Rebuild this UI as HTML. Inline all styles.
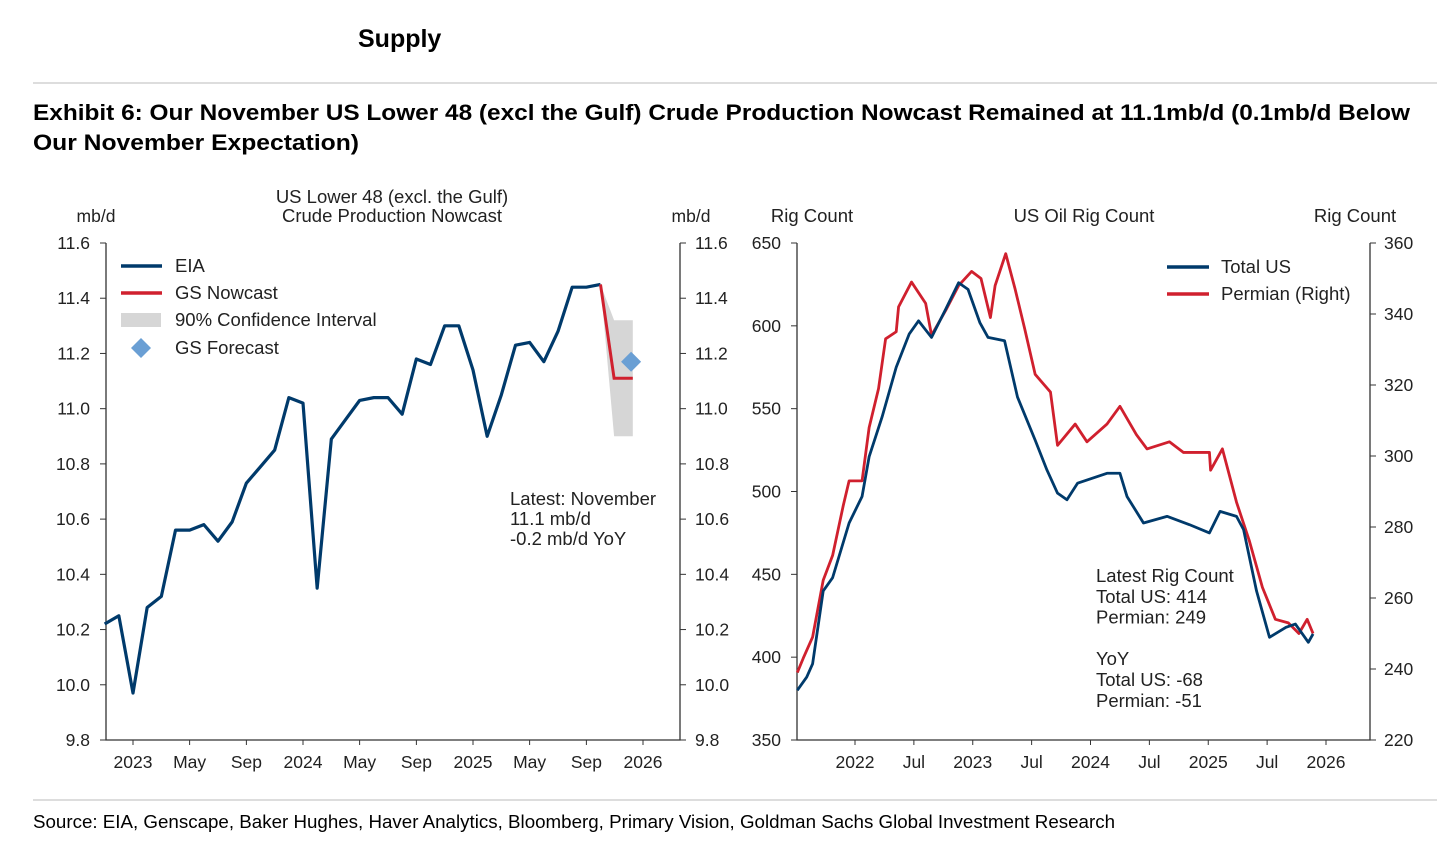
<!DOCTYPE html>
<html><head><meta charset="utf-8"><style>
body{margin:0;background:#fff;width:1456px;height:861px;overflow:hidden;font-family:"Liberation Sans",Arial,sans-serif}
svg text{font-family:"Liberation Sans",Arial,sans-serif}
</style></head><body>
<svg id="s" width="1456" height="861" viewBox="0 0 1456 861" xmlns="http://www.w3.org/2000/svg">
<text x="358" y="47" font-size="25" font-weight="bold" fill="#000">Supply</text>
<line x1="33" y1="83" x2="1437" y2="83" stroke="#bbb" stroke-width="1"/>
<text x="33" y="120" font-size="22.5" font-weight="bold" fill="#000" textLength="1377" lengthAdjust="spacingAndGlyphs">Exhibit 6: Our November US Lower 48 (excl the Gulf) Crude Production Nowcast Remained at 11.1mb/d (0.1mb/d Below</text>
<text x="33" y="150" font-size="22.5" font-weight="bold" fill="#000" textLength="326" lengthAdjust="spacingAndGlyphs">Our November Expectation)</text>
<line x1="33" y1="800" x2="1437" y2="800" stroke="#bbb" stroke-width="1"/>
<text x="33" y="828" font-size="18" fill="#000" textLength="1082" lengthAdjust="spacingAndGlyphs">Source: EIA, Genscape, Baker Hughes, Haver Analytics, Bloomberg, Primary Vision, Goldman Sachs Global Investment Research</text>
<g id="left"></g>
<g id="right"></g>
</svg>
<script>
// ---- Left chart data ----
const eiaMonths = ["2022-11","2022-12","2023-01","2023-02","2023-03","2023-04","2023-05","2023-06","2023-07","2023-08","2023-09","2023-10","2023-11","2023-12","2024-01","2024-02","2024-03","2024-04","2024-05","2024-06","2024-07","2024-08","2024-09","2024-10","2024-11","2024-12","2025-01","2025-02","2025-03","2025-04","2025-05","2025-06","2025-07","2025-08","2025-09","2025-10"];
const eiaValues = [10.22,10.25,9.97,10.28,10.32,10.56,10.56,10.58,10.52,10.59,10.73,10.79,10.85,11.04,11.02,10.35,10.89,10.96,11.03,11.04,11.04,10.98,11.18,11.16,11.30,11.30,11.14,10.90,11.05,11.23,11.24,11.17,11.28,11.44,11.44,11.45];
const nowcastMonths = [2025.75,2025.83,2025.94];
const nowcastValues = [11.45,11.11,11.11];
const ciLow = [11.45,10.90,10.90];
const ciHigh = [11.45,11.32,11.32];
const forecastMonth = 2025.93;
const forecastValue = 11.17;
const leftTicks = [9.8,10.0,10.2,10.4,10.6,10.8,11.0,11.2,11.4,11.6];
const leftXLabels = ["2023","May","Sep","2024","May","Sep","2025","May","Sep","2026"];
const leftXDates = [2023.0,2023.333,2023.667,2024.0,2024.333,2024.667,2025.0,2025.333,2025.667,2026.0];
// ---- Right chart data ----
const usDates = [2021.51,2021.59,2021.64,2021.73,2021.81,2021.95,2022.06,2022.12,2022.23,2022.35,2022.46,2022.54,2022.65,2022.77,2022.88,2022.96,2023.06,2023.13,2023.27,2023.38,2023.53,2023.63,2023.72,2023.80,2023.89,2024.14,2024.25,2024.31,2024.45,2024.65,2024.84,2025.01,2025.10,2025.24,2025.30,2025.41,2025.52,2025.66,2025.74,2025.85,2025.89];
const usValues = [380,388,396,440,448,481,497,521,545,575,595,603,593,610,626,622,602,593,591,557,531,513,499,495,505,511,511,497,481,485,480,475,488,485,477,440,412,418,420,409,414];
const permDates = [2021.51,2021.56,2021.64,2021.73,2021.81,2021.90,2021.95,2022.06,2022.12,2022.20,2022.26,2022.35,2022.37,2022.48,2022.60,2022.65,2022.77,2022.88,2022.99,2023.07,2023.15,2023.19,2023.28,2023.36,2023.44,2023.53,2023.66,2023.72,2023.87,2023.97,2024.14,2024.25,2024.39,2024.48,2024.67,2024.79,2025.01,2025.02,2025.12,2025.24,2025.35,2025.46,2025.57,2025.68,2025.77,2025.84,2025.89];
const permValues = [239,243,249,265,272,286,293,293,308,319,333,335,342,349,343,334,341,348,352,350,339,348,357,347,336,323,318,303,309,304,309,314,306,302,304,301,301,296,302,287,276,263,254,253,250,254,250];
const rigLeftTicks = [350,400,450,500,550,600,650];
const rigRightTicks = [220,240,260,280,300,320,340,360];
const rightXLabels = ["2022","Jul","2023","Jul","2024","Jul","2025","Jul","2026"];
const rightXDates = [2022.0,2022.5,2023.0,2023.5,2024.0,2024.5,2025.0,2025.5,2026.0];

const NS="http://www.w3.org/2000/svg";
function mk(parent,tag,attrs,text){const e=document.createElementNS(NS,tag);for(const k in attrs)e.setAttribute(k,attrs[k]);if(text!==undefined)e.textContent=text;parent.appendChild(e);return e;}
const BLUE="#003a6b",RED="#d0202e";
const FS=18.5, TS=17.5;

// Left chart
(function(){
  const g=document.getElementById('left');
  const x0=106,x1=680,yT=243,yB=740;
  const ym=v=>yB-(v-9.8)/(11.6-9.8)*(yB-yT);
  const tToX=t=>133+(t-2023.0)*((643-133)/3);
  const mToX=m=>{const [y,mo]=m.split('-').map(Number);return tToX(y+(mo-1)/12);};
  let ax=mk(g,'path',{d:`M${x0},${yT}V${yB}H${x1}V${yT}`,fill:'none',stroke:'#333','stroke-width':1.3});
  
  leftTicks.forEach(v=>{const y=ym(v);
    mk(g,'line',{x1:x0-6,y1:y,x2:x0,y2:y,stroke:'#333'});
    mk(g,'line',{x1:x1,y1:y,x2:x1+6,y2:y,stroke:'#333'});
    let t=mk(g,'text',{x:x0-16,y:y+6,'font-size':TS,'text-anchor':'end',fill:'#222'},v.toFixed(1));
    
    let t2=mk(g,'text',{x:x1+15,y:y+6,'font-size':TS,fill:'#222'},v.toFixed(1));
    
  });
  leftXLabels.forEach((l,i)=>{const x=tToX(leftXDates[i]);
    mk(g,'line',{x1:x,y1:yB,x2:x,y2:yB+5,stroke:'#333'});
    let t=mk(g,'text',{x:x,y:yB+28,'font-size':TS,'text-anchor':'middle',fill:'#222'},l);
    
  });
  [['mb/d',96,222],['mb/d',691,222]].forEach(a=>{let t=mk(g,'text',{x:a[1],y:a[2],'font-size':TS,'text-anchor':'middle',fill:'#222'},a[0]);});
  let ti=mk(g,'text',{x:392,y:203,'font-size':FS,'text-anchor':'middle',fill:'#222'},'US Lower 48 (excl. the Gulf)');
  
  let ti2=mk(g,'text',{x:392,y:222,'font-size':FS,'text-anchor':'middle',fill:'#222'},'Crude Production Nowcast');
  
  let pts=nowcastMonths.map((m,i)=>`${tToX(m)},${ym(ciHigh[i])}`).concat(nowcastMonths.map((m,i)=>`${tToX(m)},${ym(ciLow[i])}`).reverse()).join(' ');
  let ci=mk(g,'polygon',{points:pts,fill:'#d6d6d6'});
  
  let eia=mk(g,'polyline',{points:eiaMonths.map((m,i)=>`${mToX(m)},${ym(eiaValues[i])}`).join(' '),fill:'none',stroke:BLUE,'stroke-width':3.2,'stroke-linejoin':'round'});
  
  let nc=mk(g,'polyline',{points:nowcastMonths.map((m,i)=>`${tToX(m)},${ym(nowcastValues[i])}`).join(' '),fill:'none',stroke:RED,'stroke-width':3});
  
  const fx=tToX(forecastMonth),fy=ym(forecastValue);
  let fd=mk(g,'polygon',{points:`${fx},${fy-10} ${fx+10},${fy} ${fx},${fy+10} ${fx-10},${fy}`,fill:'#6a9fd4'});
  
  const L=[[266,'EIA','line',BLUE],[293,'GS Nowcast','line',RED],[320,'90% Confidence Interval','box'],[348,'GS Forecast','diamond']];
  L.forEach(e=>{const y=e[0];
    let it;
    if(e[2]==='line')it=mk(g,'line',{x1:121,y1:y,x2:162,y2:y,stroke:e[3],'stroke-width':3.5});
    else if(e[2]==='box')it=mk(g,'rect',{x:121,y:y-7,width:40,height:14,fill:'#d6d6d6'});
    else it=mk(g,'polygon',{points:`141,${y-10} 151,${y} 141,${y+10} 131,${y}`,fill:'#6a9fd4'});
    
    let t=mk(g,'text',{x:175,y:y+6,'font-size':FS,fill:'#222'},e[1]);
    
  });
  ['Latest: November','11.1 mb/d','-0.2 mb/d YoY'].forEach((s,i)=>{let t=mk(g,'text',{x:510,y:505+i*20,'font-size':FS,fill:'#222'},s);});
})();

// Right chart
(function(){
  const g=document.getElementById('right');
  const x0=797,x1=1370,yT=243,yB=740;
  const yl=v=>yB-(v-350)/300*(yB-yT);
  const yr=v=>yB-(v-220)/140*(yB-yT);
  const tx=t=>855+(t-2022)*((1326-855)/4);
  let ax=mk(g,'path',{d:`M${x0},${yT}V${yB}H${x1}V${yT}`,fill:'none',stroke:'#333','stroke-width':1.3});
  
  rigLeftTicks.forEach(v=>{const y=yl(v);
    mk(g,'line',{x1:x0-6,y1:y,x2:x0,y2:y,stroke:'#333'});
    let t=mk(g,'text',{x:x0-16,y:y+6,'font-size':TS,'text-anchor':'end',fill:'#222'},v);
    });
  rigRightTicks.forEach(v=>{const y=yr(v);
    mk(g,'line',{x1:x1,y1:y,x2:x1+6,y2:y,stroke:'#333'});
    let t=mk(g,'text',{x:x1+14,y:y+6,'font-size':TS,fill:'#222'},v);
    });
  rightXLabels.forEach((l,i)=>{const x=tx(rightXDates[i]);
    mk(g,'line',{x1:x,y1:yB,x2:x,y2:yB+5,stroke:'#333'});
    let t=mk(g,'text',{x:x,y:yB+28,'font-size':TS,'text-anchor':'middle',fill:'#222'},l);
    });
  [['Rig Count',812,222],['US Oil Rig Count',1084,222],['Rig Count',1355,222]].forEach(a=>{let t=mk(g,'text',{x:a[1],y:a[2],'font-size':FS,'text-anchor':'middle',fill:'#222'},a[0]);});
  let p=mk(g,'polyline',{points:permDates.map((d,i)=>`${tx(d)},${yr(permValues[i])}`).join(' '),fill:'none',stroke:RED,'stroke-width':2.8,'stroke-linejoin':'round'});
  
  let u=mk(g,'polyline',{points:usDates.map((d,i)=>`${tx(d)},${yl(usValues[i])}`).join(' '),fill:'none',stroke:BLUE,'stroke-width':2.8,'stroke-linejoin':'round'});
  
  [[267,'Total US',BLUE],[294,'Permian (Right)',RED]].forEach(e=>{
    let s=mk(g,'line',{x1:1167,y1:e[0],x2:1209,y2:e[0],stroke:e[2],'stroke-width':3.5});
    
    let t=mk(g,'text',{x:1221,y:e[0]+6,'font-size':FS,fill:'#222'},e[1]);
    });
  ['Latest Rig Count','Total US: 414','Permian: 249','','YoY','Total US: -68','Permian: -51'].forEach((s,i)=>{if(!s)return;let t=mk(g,'text',{x:1096,y:582+i*20.8,'font-size':FS,fill:'#222'},s);});
})();
</script>
</body></html>
